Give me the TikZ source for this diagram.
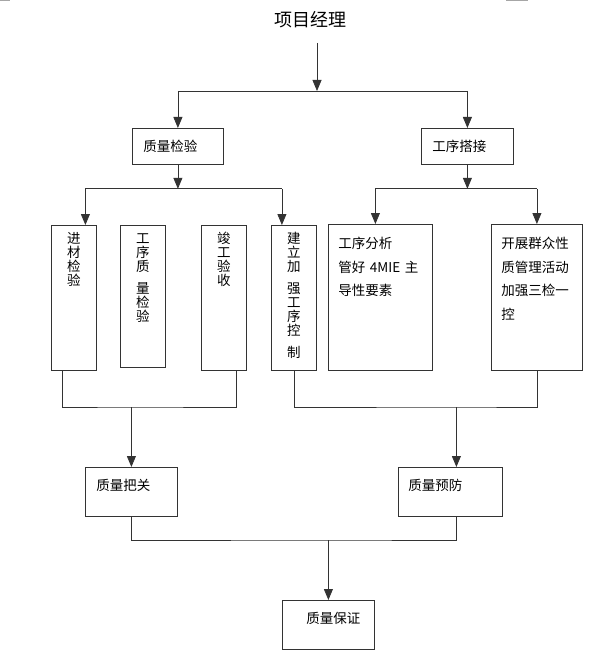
\documentclass[tikz,border=0pt]{standalone}
\usepackage{fontspec}
\setmainfont{Noto Sans CJK SC}
\usepackage{tikz}
\usetikzlibrary{arrows.meta}

\begin{document}
\begin{tikzpicture}[
  x=1pt, y=1pt,
  wire/.style={draw=black!80, line width=0.8pt},
  arr/.style={wire, -{Triangle[length=11pt, width=9pt]}},
  box/.style={draw=black!80, line width=0.8pt, anchor=north west, inner ysep=0pt, align=left,
    font=\fontsize{13.5pt}{14pt}\selectfont},
  vbox/.style={box, text width=45pt, inner xsep=0pt, align=center, text height=18.5pt},
  tbox/.style={box, inner xsep=10pt, text height=24.5pt, text depth=121.5pt,
    font=\fontsize{13.5pt}{23.5pt}\selectfont},
  sbox/.style={box, text height=23pt, text depth=26pt}
]
\useasboundingbox (0,0) rectangle (599,-655);

% page marks at the top edge
\draw[gray!70, line width=1pt] (0,-0.5) -- (10,-0.5);
\draw[gray!70, line width=1pt] (506,-0.5) -- (528,-0.5);

% Top
\node[font=\fontsize{18pt}{18pt}\selectfont] (pm) at (310.5,-20) {项目经理};

% Second row
\node[box, text width=69pt, inner xsep=11pt, minimum height=36pt] (qc) at (132,-128) {质量检验};
\node[box, text width=70pt, inner xsep=11pt, minimum height=36pt] (pp) at (421,-128) {工序搭接};

% Third row: narrow columns
\node[vbox, text depth=126.5pt] (mat) at (51,-225) {进\\材\\检\\验};
\node[vbox, text depth=123.5pt] (proc) at (120,-225) {工\\序\\质\\[8pt]量\\检\\验};
\node[vbox, text depth=126.5pt] (fin) at (201,-225) {竣\\工\\验\\收};
\node[vbox, text depth=126.5pt] (ctl) at (271,-225) {建\\立\\加\\[8pt]强\\工\\序\\控\\[8pt]制};

% Third row: wide boxes
\node[tbox, text width=84pt] (ana) at (328,-224) {工序分析\\管好 4MIE 主\\导性要素};
\node[tbox, text width=71pt] (act) at (491,-224) {开展群众性\\质管理活动\\加强三检一\\控};

% Fourth row
\node[sbox, text width=70pt, inner xsep=11pt] (chk) at (85,-467) {质量把关};
\node[sbox, text width=84pt, inner xsep=10pt] (prev) at (398,-467) {质量预防};

% Bottom
\node[sbox, text width=64pt, inner xsep=14pt, align=right] (qa) at (282,-600) {质量保证};

% Manager -> second row
\coordinate (pmout) at (317,-43);
\coordinate (j0) at (317,-91);
\draw[arr] (pmout) -- (j0);
\draw[wire] (qc.north |- j0) -- (pp.north |- j0);
\draw[arr] (qc.north |- j0) -- (qc.north);
\draw[arr] (pp.north |- j0) -- (pp.north);

% Second row -> columns
\coordinate (j1) at ([yshift=-24pt]qc.south);
\coordinate (j2) at ([yshift=-24pt]pp.south);
\coordinate (in1) at ([xshift=11.5pt]mat.north);
\coordinate (in4) at ([xshift=-12pt]ctl.north);
\coordinate (in5) at ([xshift=-5pt]ana.north);
\draw[arr] (qc.south) -- (j1);
\draw[wire] (in1 |- j1) -- (in4 |- j1);
\draw[arr] (in1 |- j1) -- (in1);
\draw[arr] (in4 |- j1) -- (in4);
\draw[arr] (pp.south) -- (j2);
\draw[wire] (in5 |- j2) -- (act.north |- j2);
\draw[arr] (in5 |- j2) -- (in5);
\draw[arr] (act.north |- j2) -- (act.north);

% Columns -> fourth row
\coordinate (out1) at ([xshift=-11.5pt]mat.south);
\coordinate (out3) at ([xshift=12pt]fin.south);
\coordinate (j3) at ([yshift=60pt]chk.north);
\coordinate (j4) at ([xshift=6pt, yshift=60pt]prev.north);
\draw[wire] (out1) |- (j3) -| (out3);
\draw[arr] (j3) -- (chk.north);
\draw[wire] (ctl.south) |- (j4) -| (act.south);
\draw[arr] (j4) -- (j4 |- prev.north);

% Fourth row -> bottom
\coordinate (j5) at ([yshift=60pt]qa.north);
\draw[wire] (chk.south) |- (j5) -| (j4 |- prev.south);
\draw[arr] (j5) -- (qa.north);

\end{tikzpicture}
\end{document}
